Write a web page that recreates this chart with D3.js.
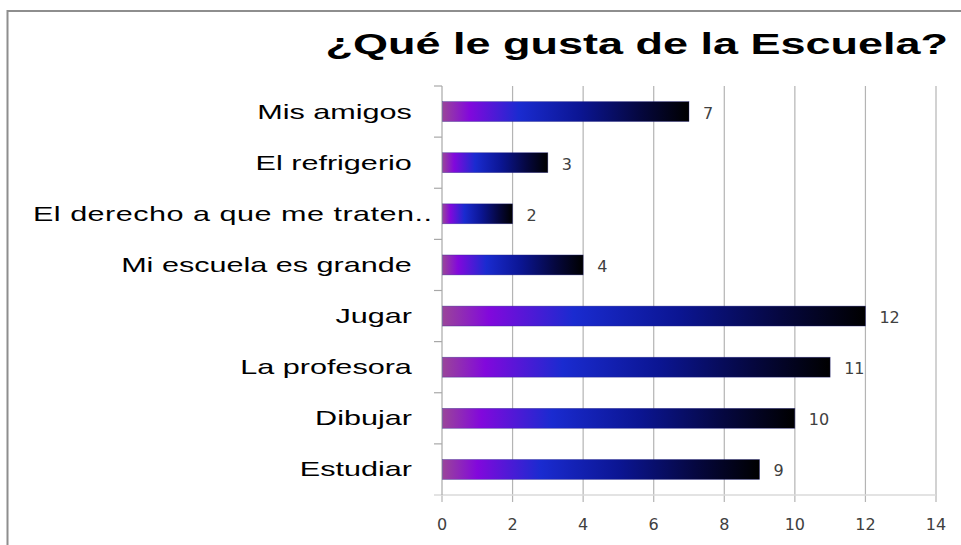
<!DOCTYPE html>
<html>
<head>
<meta charset="utf-8">
<script src="https://cdn.jsdelivr.net/npm/d3@7"></script>
<style>
  html, body { margin: 0; padding: 0; background: #ffffff; }
  svg { display: block; }
</style>
</head>
<body>
<svg id="chart" width="961" height="545"></svg>
<script>
const title = "¿Qué le gusta de la Escuela?";
const categories = [
  "Mis amigos",
  "El refrigerio",
  "El derecho a que me traten..",
  "Mi escuela es grande",
  "Jugar",
  "La profesora",
  "Dibujar",
  "Estudiar"
];
const values = [7, 3, 2, 4, 12, 11, 10, 9];
const xTicks = [0, 2, 4, 6, 8, 10, 12, 14];

const svg = d3.select("#chart");
const W = 961, H = 545;
const plot = { left: 442, right: 936, top: 86, bottom: 495 };
const labelStretch = 1.53;
const titleStretch = 1.50;

svg.append("rect").attr("width", W).attr("height", H).attr("fill", "#fff");

// outer chart border (right/bottom run off the picture)
svg.append("rect")
  .attr("x", 7.5).attr("y", 11).attr("width", 1000).attr("height", 600)
  .attr("fill", "none").attr("stroke", "#8e8e8e").attr("stroke-width", 2);

const x = d3.scaleLinear().domain([0, 14]).range([plot.left, plot.right]);
const y = d3.scaleBand().domain(categories).range([plot.top, plot.bottom])
  .paddingInner(0.61).paddingOuter(0.305);

// gradient
const defs = svg.append("defs");
const grad = defs.append("linearGradient").attr("id", "barGrad")
  .attr("x1", "0%").attr("x2", "100%").attr("y1", "0%").attr("y2", "0%");
[
  [0, "#9a4599"], [0.11, "#8208dc"], [0.31, "#1a2bd0"],
  [0.56, "#0b1592"], [0.8, "#05073f"], [1, "#000000"]
].forEach(([o, c]) => grad.append("stop").attr("offset", o).attr("stop-color", c));

// vertical gridlines (extend below axis as tick marks)
svg.append("g").selectAll("line").data(xTicks.filter(d => d !== 0)).join("line")
  .attr("x1", d => x(d)).attr("x2", d => x(d))
  .attr("y1", plot.top).attr("y2", plot.bottom + 7)
  .attr("stroke", "#b4b4b4").attr("stroke-width", 1.2);

svg.append("line").attr("x1", x(0)).attr("x2", x(0))
  .attr("y1", plot.bottom).attr("y2", plot.bottom + 7)
  .attr("stroke", "#b4b4b4").attr("stroke-width", 1.2);

// bottom axis line
svg.append("line").attr("x1", plot.left - 8).attr("x2", plot.right)
  .attr("y1", plot.bottom).attr("y2", plot.bottom)
  .attr("stroke", "#dadada").attr("stroke-width", 1.5);

// y axis line and ticks at band boundaries
svg.append("line").attr("x1", x(0)).attr("x2", x(0))
  .attr("y1", plot.top).attr("y2", plot.bottom)
  .attr("stroke", "#a8a8a8").attr("stroke-width", 1.2);
const step = y.step();
const boundaries = d3.range(categories.length).map(i => plot.top + i * step);
svg.append("g").selectAll("line").data(boundaries).join("line")
  .attr("x1", x(0) - 8).attr("x2", x(0))
  .attr("y1", d => d).attr("y2", d => d)
  .attr("stroke", "#a8a8a8").attr("stroke-width", 1.2);

// bars
svg.append("g").selectAll("rect").data(categories).join("rect")
  .attr("x", x(0) + 0.5)
  .attr("y", d => y(d))
  .attr("width", (d, i) => x(values[i]) - x(0) - 0.5)
  .attr("height", y.bandwidth())
  .attr("fill", "url(#barGrad)")
  .attr("stroke", "#2a2a8a").attr("stroke-width", 0.6).attr("stroke-opacity", 0.6);

// value labels
svg.append("g").selectAll("text").data(categories).join("text")
  .attr("x", (d, i) => x(values[i]) + 14)
  .attr("y", d => y(d) + y.bandwidth() / 2 + 7)
  .attr("font-family", "DejaVu Sans, Verdana, sans-serif")
  .attr("font-size", 16)
  .attr("fill", "#404040")
  .text((d, i) => values[i]);

// category labels (horizontally stretched Arial-like text)
const labelRight = 412, labelMinLeft = 33, labelMaxRight = 432;
const labels = svg.append("g").selectAll("text").data(categories).join("text")
  .attr("text-anchor", "start")
  .attr("font-family", "Liberation Sans, Arial, sans-serif")
  .attr("font-size", 20)
  .attr("fill", "#000")
  .text(d => d);
labels.each(function(d) {
  const sel = d3.select(this);
  const w = this.getComputedTextLength() * labelStretch;
  const cy = y(d) + y.bandwidth() / 2 + 7;
  let left = labelRight - w;
  if (left < labelMinLeft) {
    // truncated label fills the whole label box
    left = labelMinLeft;
    sel.attr("textLength", (labelMaxRight - labelMinLeft) / labelStretch)
       .attr("lengthAdjust", "spacing");
  }
  sel.attr("transform", `translate(${left}, ${cy}) scale(${labelStretch},1)`);
});

// x tick labels
svg.append("g").selectAll("text").data(xTicks).join("text")
  .attr("x", d => x(d)).attr("y", 530)
  .attr("text-anchor", "middle")
  .attr("font-family", "DejaVu Sans, Verdana, sans-serif")
  .attr("font-size", 16)
  .attr("fill", "#404040")
  .text(d => d);

// title
svg.append("text")
  .attr("transform", `translate(948, 54) scale(${titleStretch},1)`)
  .attr("text-anchor", "end")
  .attr("font-family", "Liberation Sans, Arial, sans-serif")
  .attr("font-weight", "bold")
  .attr("font-size", 30)
  .attr("fill", "#000")
  .text(title);
</script>
</body>
</html>
